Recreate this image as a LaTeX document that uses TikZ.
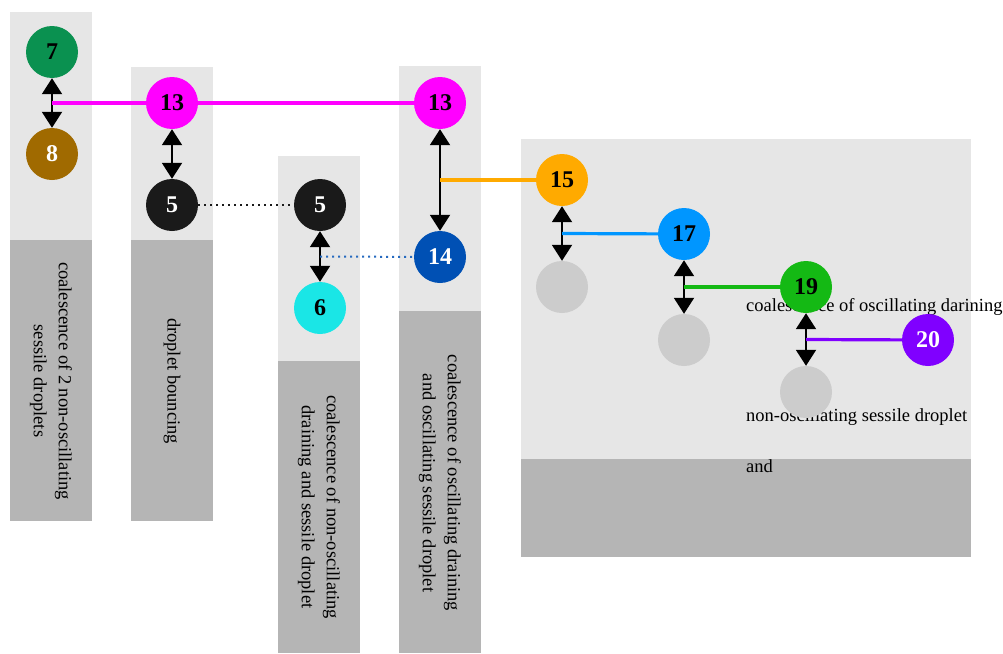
\documentclass[tikz,border=0pt]{standalone}
\usepackage{fontspec}
\setmainfont{Liberation Serif}
\usetikzlibrary{arrows.meta}

\definecolor{lightbg}{RGB}{230,230,230}
\definecolor{darkbg}{RGB}{181,181,181}
\definecolor{dropgreen}{RGB}{10,145,80}
\definecolor{dropbrown}{RGB}{160,106,0}
\definecolor{dropmagenta}{RGB}{255,0,255}
\definecolor{dropblack}{RGB}{26,26,26}
\definecolor{dropcyan}{RGB}{26,230,230}
\definecolor{dropnavy}{RGB}{0,80,180}
\definecolor{droporange}{RGB}{255,170,0}
\definecolor{dropsky}{RGB}{0,150,255}
\definecolor{droplime}{RGB}{20,185,20}
\definecolor{dropviolet}{RGB}{128,0,255}
\definecolor{dropgray}{RGB}{204,204,204}

\begin{document}
\begin{tikzpicture}
[
    x = 1pt, y = -1pt,
    upperbox/.style = {fill = lightbg},
    lowerbox/.style = {fill = darkbg},
    caption/.style = {font = \fontsize{18.5}{25}\selectfont, inner sep = 0pt},
    drop/.style = {circle, minimum size = 52pt, inner sep = 0pt,
        font = \fontsize{24}{24}\selectfont\bfseries},
    bounce/.style = {line width = 2pt,
        {Triangle[width=20pt,length=16pt]}-{Triangle[width=20pt,length=16pt]}},
    link/.style = {line width = 3.2pt},
    pairdots/.style = {line width = 2pt, dash pattern = on 2pt off 4pt}
]
\useasboundingbox (0,0) rectangle (1003,653);

% columns
\fill[upperbox] (10,12) rectangle (92,240);
\fill[lowerbox] (10,240) rectangle (92,521);
\fill[upperbox] (131,67) rectangle (213,240);
\fill[lowerbox] (131,240) rectangle (213,521);
\fill[upperbox] (278,156) rectangle (360,361);
\fill[lowerbox] (278,361) rectangle (360,653);
\fill[upperbox] (399,66) rectangle (481,311);
\fill[lowerbox] (399,311) rectangle (481,653);
\fill[upperbox] (521,139) rectangle (971,459);
\fill[lowerbox] (521,459) rectangle (971,557);

% captions
\node[caption, rotate = -90, align = center] (t1) at (51,381)
    {coalescence of 2 non-oscillating\\sessile droplets};
\node[caption, rotate = -90] (t2) at (172,381) {droplet bouncing};
\node[caption, rotate = -90, align = center] (t3) at (319,507)
    {coalescence of non-oscillating\\draining and sessile droplet};
\node[caption, rotate = -90, align = center] (t4) at (440,483)
    {coalescence of oscillating draining\\and oscillating sessile droplet};
\node[caption, anchor = base west] (t5a) at (746,311) {coalescence of oscillating darining};
\node[caption, anchor = base west] (t5b) at (746,421) {non-oscillating sessile droplet};
\node[caption, anchor = base west] (t5c) at (746,472) {and};

% droplets
\node[drop, fill = dropgreen] (c7) at (52,52) {7};
\node[drop, fill = dropbrown, text = white] (c8) at (52,154) {8};
\node[drop, fill = dropmagenta] (c13a) at (172,103) {13};
\node[drop, fill = dropblack, text = white] (c5a) at (172,205) {5};
\node[drop, fill = dropblack, text = white] (c5b) at (320,205) {5};
\node[drop, fill = dropcyan] (c6) at (320,308) {6};
\node[drop, fill = dropmagenta] (c13b) at (440,103) {13};
\node[drop, fill = dropnavy, text = white] (c14) at (440,257) {14};
\node[drop, fill = droporange] (c15) at (562,180) {15};
\node[drop, fill = dropgray] (g15) at (562,287) {};
\node[drop, fill = dropsky] (c17) at (684,234) {17};
\node[drop, fill = dropgray] (g17) at (684,340) {};
\node[drop, fill = droplime] (c19) at (806,287) {19};
\node[drop, fill = dropgray] (g19) at (806,392) {};
\node[drop, fill = dropviolet, text = white] (c20) at (928,340) {20};

% pairs
\draw[bounce] (c7) -- coordinate[midway] (m7) (c8);
\draw[bounce] (c13a) -- (c5a);
\draw[bounce] (c5b) -- coordinate[midway] (m5) (c6);
\draw[bounce] (c13b) -- coordinate[midway] (m13) (c14);
\draw[bounce] (c15) -- coordinate[midway] (m15) (g15);
\draw[bounce] (c17) -- coordinate[midway] (m17) (g17);
\draw[bounce] (c19) -- coordinate[midway] (m19) (g19);

% links
\draw[link, dropmagenta] (m7) -- (c13a) -- (c13b);
\draw[pairdots, dropblack] (c5a) -- (c5b);
\draw[pairdots, dropnavy!85] (m5) -- (c14);
\draw[link, droporange] (m13) -- (c15);
\draw[link, dropsky] (m15) -- (c17);
\draw[link, droplime] (m17) -- (c19);
\draw[link, dropviolet] (m19) -- (c20);
\end{tikzpicture}
\end{document}
